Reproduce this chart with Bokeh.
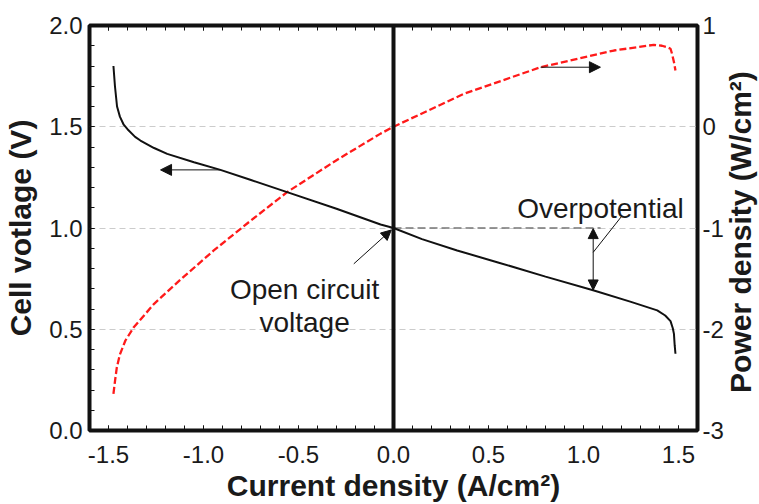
import math
from bokeh.plotting import figure
from bokeh.models import (Range1d, LinearAxis, SingleIntervalTicker, FixedTicker,
                          NumeralTickFormatter, Span, Arrow, NormalHead, Label)
from bokeh.embed import file_html
from bokeh.resources import INLINE

# ---- data ----
# cell voltage curve (left axis)
cur_v = [-1.474, -1.466, -1.455, -1.440, -1.420, -1.400, -1.360, -1.332, -1.260, -1.191,
         -1.050, -0.911, -0.750, -0.560, -0.300, -0.068, 0.000, 0.150, 0.335, 0.550,
         0.800, 1.055, 1.250, 1.388, 1.430, 1.458, 1.470, 1.476, 1.480, 1.484]
volt = [1.800, 1.700, 1.600, 1.550, 1.510, 1.488, 1.450, 1.432, 1.395, 1.366,
        1.325, 1.287, 1.237, 1.177, 1.095, 1.017, 1.000, 0.945, 0.889, 0.830,
        0.760, 0.691, 0.635, 0.593, 0.568, 0.540, 0.505, 0.477, 0.420, 0.379]

# power density curve (right axis)
cur_p = [-1.474, -1.465, -1.456, -1.440, -1.411, -1.367, -1.260, -1.121, -0.946, -0.760,
         -0.560, -0.300, -0.068, 0.000, 0.370, 0.774, 1.160, 1.370, 1.413, 1.440,
         1.458, 1.466, 1.476, 1.484]
power = [-2.638, -2.500, -2.375, -2.250, -2.111, -1.980, -1.749, -1.510, -1.222, -0.940,
         -0.646, -0.330, -0.068, 0.000, 0.325, 0.588, 0.753, 0.809, 0.800, 0.786,
         0.770, 0.720, 0.640, 0.556]

x_ticks = [-1.5, -1.0, -0.5, 0.0, 0.5, 1.0, 1.5]
v_ticks = [0.0, 0.5, 1.0, 1.5, 2.0]
p_ticks = [-3, -2, -1, 0, 1]

x_title = "Current density (A/cm\u00b2)"
yl_title = "Cell votlage (V)"
yr_title = "Power density (W/cm\u00b2)"

# annotation anchor positions (data units)
ocv_ref = [0.0, 1.09]          # dashed OCV reference line x-extent at V=1.0
op_x = 1.051                   # overpotential double arrow x
op_leader_x = [1.051, 1.20]
op_leader_y = [0.880, 1.057]

FONT = "Liberation Sans"
TXT = "#1a1a1a"

p = figure(width=759, height=504, output_backend="svg", toolbar_location=None,
           x_range=Range1d(-1.6, 1.6), y_range=Range1d(0, 2),
           min_border_left=89, min_border_right=62, min_border_top=25, min_border_bottom=74)
p.extra_y_ranges = {"pd": Range1d(-3, 1)}
p.background_fill_color = "white"
p.border_fill_color = "white"
p.outline_line_color = "#111111"
p.outline_line_width = 4

# grids
p.xgrid.visible = False
p.ygrid.ticker = FixedTicker(ticks=v_ticks)
p.ygrid.grid_line_color = "#cccccc"
p.ygrid.grid_line_dash = "6 4"
p.ygrid.grid_line_width = 1

def style_axis(ax):
    ax.axis_line_color = None
    ax.major_tick_out = 0
    ax.minor_tick_out = 0
    ax.major_tick_in = 5
    ax.minor_tick_in = 5
    ax.major_tick_line_color = "#111111"
    ax.minor_tick_line_color = "#111111"
    ax.major_tick_line_width = 1
    ax.minor_tick_line_width = 1
    ax.major_label_text_font = FONT
    ax.major_label_text_font_size = "24px"
    ax.major_label_text_color = TXT
    ax.major_label_text_font_style = "normal"
    ax.axis_label_text_font = FONT
    ax.axis_label_text_font_size = "30px"
    ax.axis_label_text_font_style = "bold"
    ax.axis_label_text_color = TXT

# bottom axis
xa = p.xaxis[0]
style_axis(xa)
xa.ticker = SingleIntervalTicker(interval=0.5, num_minor_ticks=5)
xa.formatter = NumeralTickFormatter(format="0.0")
xa.major_label_standoff = 15
xa.axis_label = x_title
xa.axis_label_standoff = 3

# left axis
ya = p.yaxis[0]
style_axis(ya)
ya.ticker = SingleIntervalTicker(interval=0.5, num_minor_ticks=5)
ya.formatter = NumeralTickFormatter(format="0.0")
ya.major_label_standoff = 7
ya.axis_label = yl_title
ya.axis_label_standoff = 9

# top axis (ticks only)
ta = LinearAxis(ticker=SingleIntervalTicker(interval=0.5, num_minor_ticks=5))
style_axis(ta)
ta.major_label_text_font_size = "1px"
ta.major_label_text_color = None
ta.major_label_standoff = 0
p.add_layout(ta, "above")

# right axis (labels only)
ra = LinearAxis(y_range_name="pd", ticker=FixedTicker(ticks=p_ticks),
                formatter=NumeralTickFormatter(format="0"))
style_axis(ra)
ra.major_tick_in = 0
ra.minor_tick_in = 0
ra.major_label_standoff = 5
p.add_layout(ra, "right")

# right axis title, reading bottom-to-top like the left one
p.add_layout(Label(x=1.826, y=0.98, text=yr_title, angle=math.pi / 2,
                   text_align="center", text_baseline="alphabetic",
                   text_font=FONT, text_font_size="30px", text_font_style="bold",
                   text_color=TXT), "right")

# zero-current line
p.add_layout(Span(location=0, dimension="height", line_color="#111111", line_width=4))

# OCV dashed reference
p.line(ocv_ref, [v_ticks[2], v_ticks[2]], line_color="#777777", line_width=1.5, line_dash="8 4")

# curves
p.line(cur_p, power, y_range_name="pd", line_color="#ff1a1a", line_width=2.3, line_dash="7 3")
p.line(cur_v, volt, line_color="#111111", line_width=2)

# arrows pointing to axes
p.add_layout(Arrow(end=NormalHead(size=11, fill_color="#111111", line_color="#111111"),
                   x_start=-0.911, y_start=1.287, x_end=-1.226, y_end=1.287,
                   line_color="#111111", line_width=1))
p.add_layout(Arrow(end=NormalHead(size=11, fill_color="#111111", line_color="#111111"),
                   x_start=0.774, y_start=0.588, x_end=1.089, y_end=0.588,
                   y_range_name="pd", line_color="#111111", line_width=1))

# OCV arrow
p.add_layout(Arrow(end=NormalHead(size=10, fill_color="#111111", line_color="#111111"),
                   x_start=-0.209, y_start=0.823, x_end=-0.012, y_end=0.990,
                   line_color="#111111", line_width=1))

# overpotential double arrow + leader
p.add_layout(Arrow(start=NormalHead(size=10, fill_color="#111111", line_color="#111111"),
                   end=NormalHead(size=10, fill_color="#111111", line_color="#111111"),
                   x_start=op_x, y_start=0.997, x_end=op_x, y_end=0.694,
                   line_color="#111111", line_width=1))
p.segment(x0=[op_leader_x[0]], y0=[op_leader_y[0]], x1=[op_leader_x[1]], y1=[op_leader_y[1]],
          line_color="#111111", line_width=1)

# annotation texts
def add_text(x, y, t, size):
    p.add_layout(Label(x=x, y=y, text=t, text_align="center",
                       text_baseline="alphabetic", text_font=FONT,
                       text_font_size=size, text_color=TXT))

add_text(1.089, 1.096, "Overpotential", "28px")
add_text(-0.468, 0.695, "Open circuit", "28px")
add_text(-0.468, 0.535, "voltage", "28px")

open("out.html", "w").write(file_html(p, INLINE))
